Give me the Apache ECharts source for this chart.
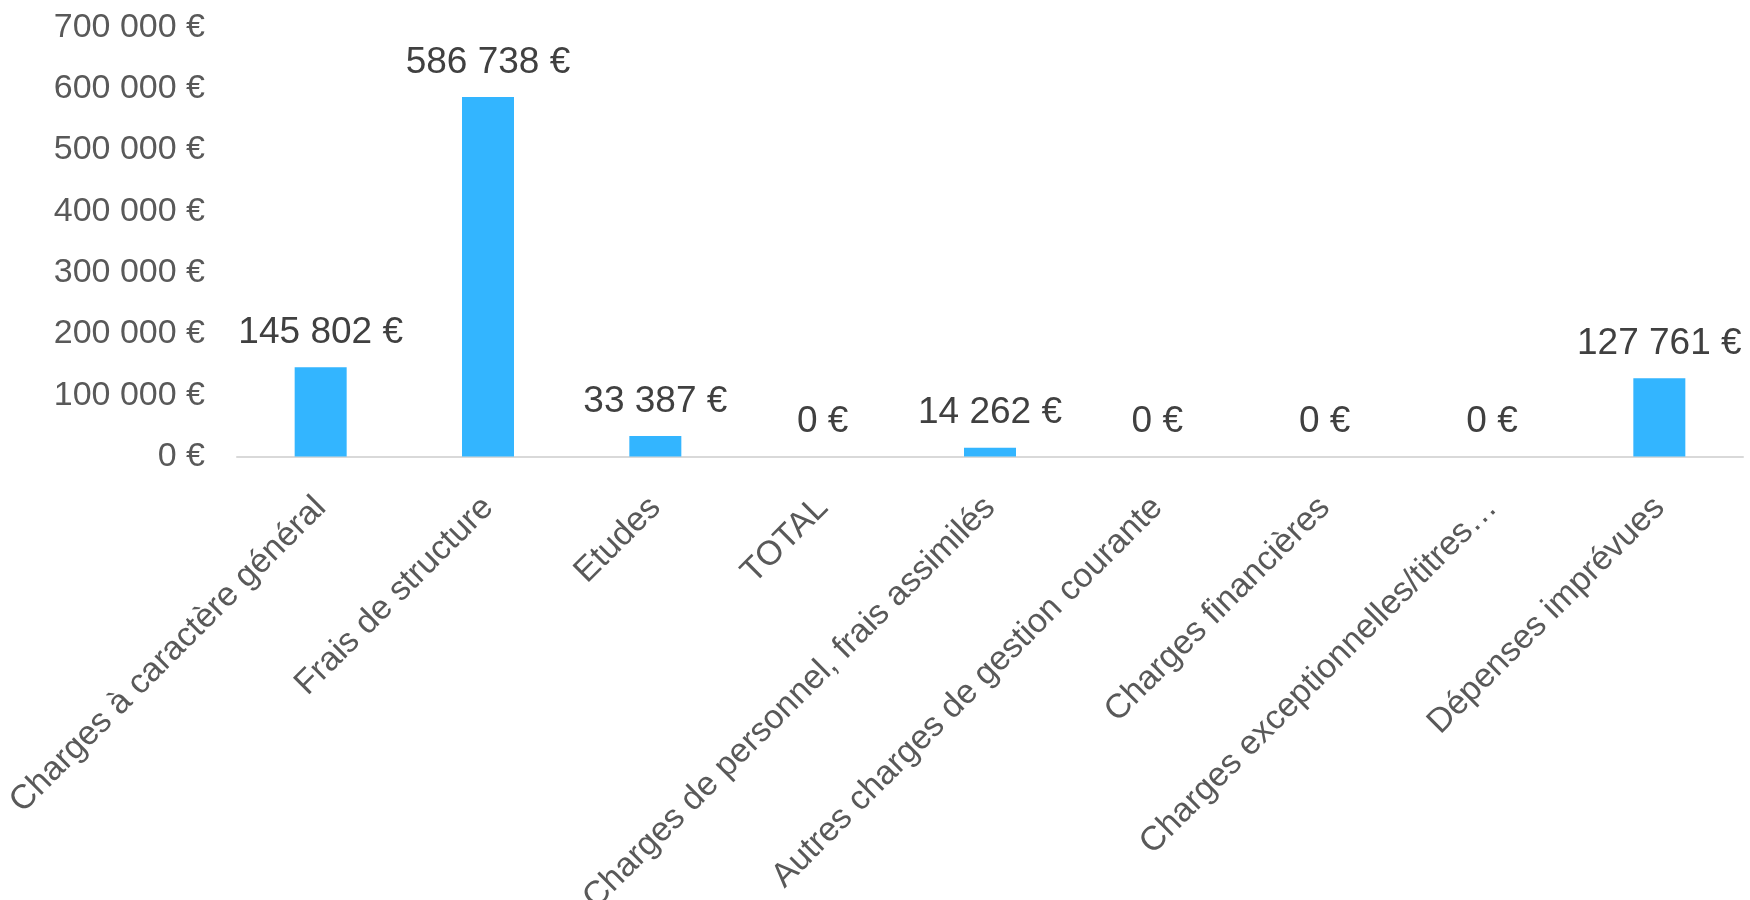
<!DOCTYPE html>
<html>
<head>
<meta charset="utf-8">
<script src="https://cdn.jsdelivr.net/npm/echarts@6/dist/echarts.min.js"></script>
<style>
  html, body { margin: 0; padding: 0; background: #ffffff; }
  #chart { width: 1750px; height: 900px; }
</style>
</head>
<body>
<div id="chart"></div>
<script>
const categories = [
  "Charges à caractère général",
  "Frais de structure",
  "Etudes",
  "TOTAL",
  "Charges de personnel, frais assimilés",
  "Autres charges de gestion courante",
  "Charges financières",
  "Charges exceptionnelles/titres…",
  "Dépenses imprévues"
];
const values = [145802, 586738, 33387, 0, 14262, 0, 0, 0, 127761];
const yMin = 0;
const yMax = 700000;
const yInterval = 100000;

function euro(v) {
  return String(Math.round(v)).replace(/\B(?=(\d{3})+(?!\d))/g, ' ') + ' €';
}

const FONT = '"Liberation Sans", Arial, sans-serif';
const chart = echarts.init(document.getElementById('chart'), null, { renderer: 'canvas' });
chart.setOption({
  animation: false,
  backgroundColor: '#ffffff',
  grid: { left: 237, right: 7, top: 27.5, bottom: 443.5, containLabel: false, outerBoundsMode: 'none' },
  xAxis: {
    type: 'category',
    data: categories,
    axisLine: { show: true, lineStyle: { color: '#D9D9D9', width: 2 } },
    axisTick: { show: false },
    axisLabel: {
      interval: 0,
      rotate: 45,
      margin: 46,
      color: '#595959',
      fontFamily: FONT,
      fontSize: 34
    }
  },
  yAxis: {
    type: 'value',
    min: yMin,
    max: yMax,
    interval: yInterval,
    axisLine: { show: false },
    axisTick: { show: false },
    splitLine: { show: false },
    axisLabel: {
      margin: 32,
      color: '#595959',
      fontFamily: FONT,
      fontSize: 34,
      formatter: euro
    }
  },
  series: [{
    type: 'bar',
    data: values,
    barWidth: 52,
    itemStyle: { color: '#33B5FF' },
    label: {
      show: true,
      position: 'top',
      distance: 16,
      color: '#404040',
      fontFamily: FONT,
      fontSize: 37,
      formatter: function (p) { return euro(p.value); }
    }
  }]
});
</script>
</body>
</html>
